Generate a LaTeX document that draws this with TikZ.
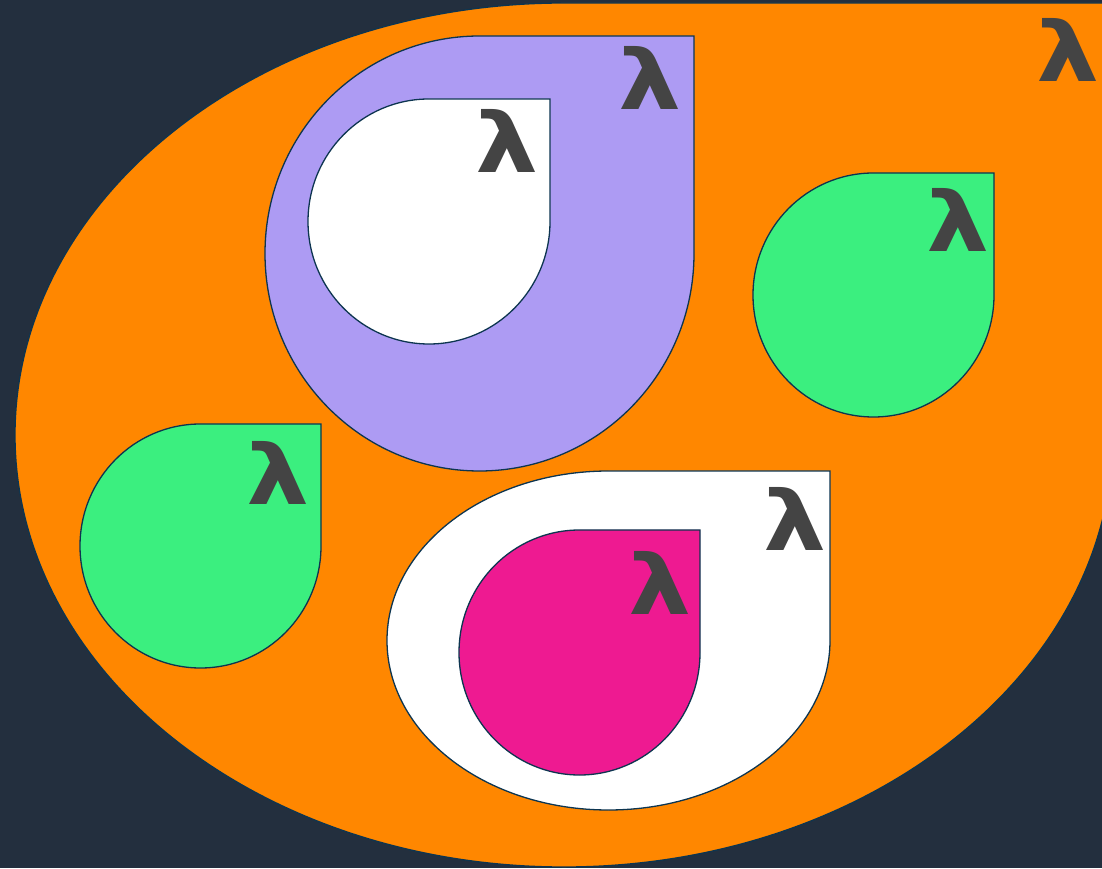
\documentclass[tikz,border=0pt]{standalone}
\usepackage{fontspec}
\newfontfamily\lamfont{DejaVu Sans}[FakeStretch=1.2]
\definecolor{navybg}{HTML}{232F3E}
\definecolor{edge}{HTML}{0D3550}
\definecolor{dorange}{HTML}{FF8700}
\definecolor{dpurple}{HTML}{AD9BF3}
\definecolor{dgreen}{HTML}{3BEF7F}
\definecolor{dpink}{HTML}{EE1A91}
\definecolor{lamgray}{HTML}{444444}
% drop: centre x, centre y, x radius, y radius, fill; top right corner square
\newcommand{\drop}[5]{%
  \filldraw[dropline,fill=#5] (#1,#2+#4) arc[start angle=90,end angle=360,x radius=#3,y radius=#4]
    -- (#1+#3,#2+#4) -- cycle;}
\begin{document}
\begin{tikzpicture}[x=1pt,y=1pt,
  dropline/.style={draw=edge,line width=1.3pt},
  lam/.style={anchor=base east,inner sep=0pt,text=lamgray,font=\lamfont\bfseries\fontsize{83}{83}\selectfont}]
\useasboundingbox (0,0) rectangle (1102,868);
\fill[navybg] (0,0) rectangle (1102,868);
\clip (0,0) rectangle (1102,868);
\drop{564}{433}{549}{432}{dorange}
\drop{479.5}{614.5}{214.5}{217.5}{dpurple}
\drop{429}{646.5}{121}{122.5}{white}
\drop{873.5}{573}{120.5}{122}{dgreen}
\drop{200.5}{322}{120.5}{122}{dgreen}
\drop{608.5}{227.5}{221.5}{169.5}{white}
\drop{579.5}{215.5}{120.5}{122.5}{dpink}
\node[lam] (lorange) at (1100,786) {λ};
\node[lam] (lpurple) at (682,758) {λ};
\node[lam] (linner) at (539,695) {λ};
\node[lam] (lgreena) at (990,616) {λ};
\node[lam] (lgreenb) at (310,363) {λ};
\node[lam] (lwhite) at (827,318) {λ};
\node[lam] (lpink) at (692,254) {λ};
\end{tikzpicture}
\end{document}
